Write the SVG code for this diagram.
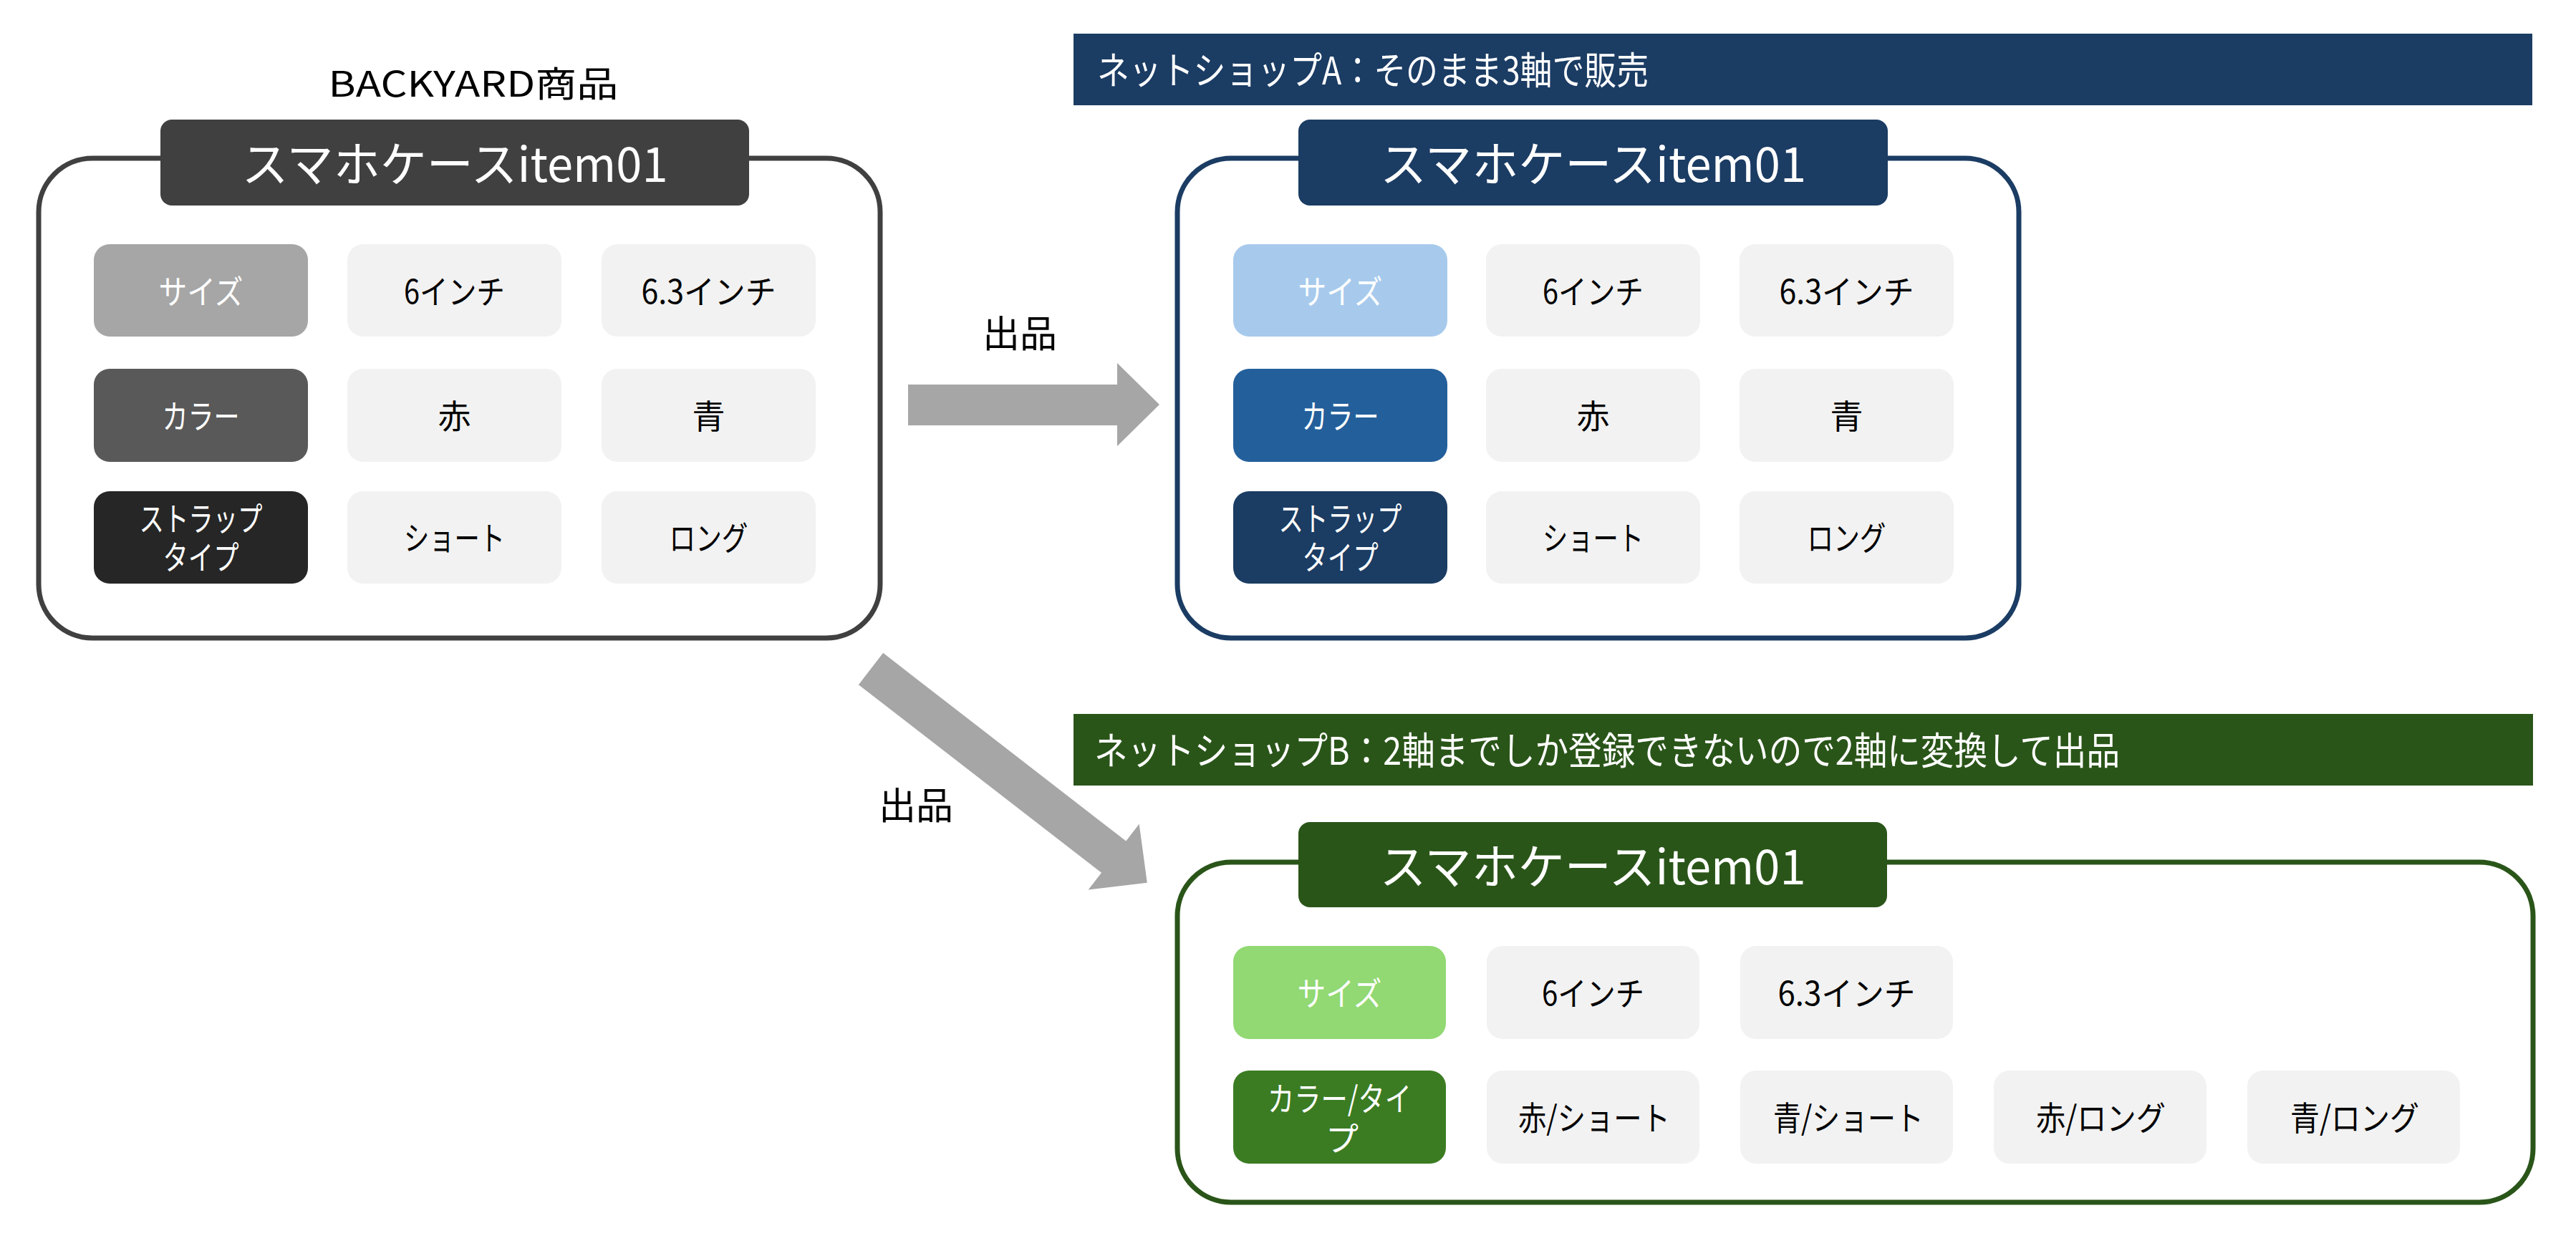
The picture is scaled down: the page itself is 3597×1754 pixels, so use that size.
<svg xmlns="http://www.w3.org/2000/svg" width="3597" height="1754" viewBox="0 0 3597 1754">
<style>
text{font-family:"Noto Sans CJK JP","Noto Sans",sans-serif}
.box{fill:#fff;stroke-width:7}
.cell{fill:#F2F2F2}
.title{font-size:67px;fill:#fff;text-anchor:middle}
.vt{font-size:46px;fill:#000;text-anchor:middle}
.ht{font-size:46px;fill:#fff;text-anchor:middle}
.banner-t{font-size:53px;fill:#fff}
.lbl{font-size:52px;fill:#000;text-anchor:middle}
.arrow{fill:#A6A6A6}
</style>
<rect width="3597" height="1754" fill="#fff"/>

<g id="connectors">
  <path class="arrow" d="M1268,537 H1560 V507 L1619,565 L1560,623 V594 H1268 Z"/>
  <path class="arrow" d="M0,-28 H429 V-58 L488,0 L429,58 V28 H0 Z" transform="translate(1216,934) rotate(37.76)"/>
  <text class="lbl" x="1424" y="485">出品</text>
  <text class="lbl" x="1279" y="1144">出品</text>
</g>

<g id="backyard">
  <text x="661" y="135" font-size="49" text-anchor="middle" textLength="405" lengthAdjust="spacingAndGlyphs" fill="#000">BACKYARD商品</text>
  <rect class="box" x="54" y="221" width="1175" height="670" rx="75" stroke="#404040"/>
  <rect x="224" y="167" width="822" height="120" rx="16" fill="#404040"/>
  <text class="title" x="635" y="254" textLength="595" lengthAdjust="spacingAndGlyphs">スマホケースitem01</text>
  <rect x="131" y="341" width="299" height="129" rx="22" fill="#A6A6A6"/>
  <rect x="131" y="515" width="299" height="130" rx="22" fill="#595959"/>
  <rect x="131" y="686" width="299" height="129" rx="22" fill="#262626"/>
  <rect class="cell" x="485" y="341" width="299" height="129" rx="22"/>
  <rect class="cell" x="840" y="341" width="299" height="129" rx="22"/>
  <rect class="cell" x="485" y="515" width="299" height="130" rx="22"/>
  <rect class="cell" x="840" y="515" width="299" height="130" rx="22"/>
  <rect class="cell" x="485" y="686" width="299" height="129" rx="22"/>
  <rect class="cell" x="840" y="686" width="299" height="129" rx="22"/>
  <text class="ht" x="280.5" y="424" textLength="118" lengthAdjust="spacingAndGlyphs">サイズ</text>
  <text class="ht" x="280.5" y="598" textLength="108" lengthAdjust="spacingAndGlyphs">カラー</text>
  <text class="ht"><tspan x="280.5" y="741" textLength="172" lengthAdjust="spacingAndGlyphs">ストラップ</tspan><tspan x="280.5" y="795" textLength="106" lengthAdjust="spacingAndGlyphs">タイプ</tspan></text>
  <text class="vt" x="634.5" y="424" textLength="141" lengthAdjust="spacingAndGlyphs">6インチ</text>
  <text class="vt" x="989.5" y="424" textLength="188" lengthAdjust="spacingAndGlyphs">6.3インチ</text>
  <text class="vt" x="634.5" y="598">赤</text>
  <text class="vt" x="989.5" y="598">青</text>
  <text class="vt" x="634.5" y="768" textLength="141" lengthAdjust="spacingAndGlyphs">ショート</text>
  <text class="vt" x="989.5" y="768" textLength="110" lengthAdjust="spacingAndGlyphs">ロング</text>
</g>

<g id="shopA">
  <rect x="1499" y="47" width="2037" height="100" fill="#1B3C63"/>
  <text class="banner-t" x="1532" y="118" textLength="770" lengthAdjust="spacingAndGlyphs">ネットショップA：そのまま3軸で販売</text>
  <rect class="box" x="1644" y="221" width="1175" height="670" rx="75" stroke="#1B3C63"/>
  <rect x="1813" y="167" width="823" height="120" rx="16" fill="#1B3C63"/>
  <text class="title" x="2224.5" y="254" textLength="595" lengthAdjust="spacingAndGlyphs">スマホケースitem01</text>
  <rect x="1722" y="341" width="299" height="129" rx="22" fill="#A7CAEC"/>
  <rect x="1722" y="515" width="299" height="130" rx="22" fill="#235F9B"/>
  <rect x="1722" y="686" width="299" height="129" rx="22" fill="#1B3C63"/>
  <rect class="cell" x="2075" y="341" width="299" height="129" rx="22"/>
  <rect class="cell" x="2429" y="341" width="299" height="129" rx="22"/>
  <rect class="cell" x="2075" y="515" width="299" height="130" rx="22"/>
  <rect class="cell" x="2429" y="515" width="299" height="130" rx="22"/>
  <rect class="cell" x="2075" y="686" width="299" height="129" rx="22"/>
  <rect class="cell" x="2429" y="686" width="299" height="129" rx="22"/>
  <text class="ht" x="1871.5" y="424" textLength="118" lengthAdjust="spacingAndGlyphs">サイズ</text>
  <text class="ht" x="1871.5" y="598" textLength="108" lengthAdjust="spacingAndGlyphs">カラー</text>
  <text class="ht"><tspan x="1871.5" y="741" textLength="172" lengthAdjust="spacingAndGlyphs">ストラップ</tspan><tspan x="1871.5" y="795" textLength="106" lengthAdjust="spacingAndGlyphs">タイプ</tspan></text>
  <text class="vt" x="2224.5" y="424" textLength="141" lengthAdjust="spacingAndGlyphs">6インチ</text>
  <text class="vt" x="2578.5" y="424" textLength="188" lengthAdjust="spacingAndGlyphs">6.3インチ</text>
  <text class="vt" x="2224.5" y="598">赤</text>
  <text class="vt" x="2578.5" y="598">青</text>
  <text class="vt" x="2224.5" y="768" textLength="141" lengthAdjust="spacingAndGlyphs">ショート</text>
  <text class="vt" x="2578.5" y="768" textLength="110" lengthAdjust="spacingAndGlyphs">ロング</text>
</g>

<g id="shopB">
  <rect x="1499" y="997" width="2038" height="100" fill="#2A5519"/>
  <text class="banner-t" x="1528" y="1068" textLength="1432" lengthAdjust="spacingAndGlyphs">ネットショップB：2軸までしか登録できないので2軸に変換して出品</text>
  <rect class="box" x="1644" y="1204" width="1893" height="475" rx="75" stroke="#2A5519"/>
  <rect x="1813" y="1148" width="822" height="119" rx="16" fill="#2A5519"/>
  <text class="title" x="2224" y="1235" textLength="595" lengthAdjust="spacingAndGlyphs">スマホケースitem01</text>
  <rect x="1722" y="1321" width="297" height="130" rx="22" fill="#92D873"/>
  <rect x="1722" y="1495" width="297" height="130" rx="22" fill="#3B7C23"/>
  <rect class="cell" x="2076" y="1321" width="297" height="130" rx="22"/>
  <rect class="cell" x="2430" y="1321" width="297" height="130" rx="22"/>
  <rect class="cell" x="2076" y="1495" width="297" height="130" rx="22"/>
  <rect class="cell" x="2430" y="1495" width="297" height="130" rx="22"/>
  <rect class="cell" x="2784" y="1495" width="297" height="130" rx="22"/>
  <rect class="cell" x="3138" y="1495" width="297" height="130" rx="22"/>
  <text class="ht" x="1870.5" y="1404" textLength="118" lengthAdjust="spacingAndGlyphs">サイズ</text>
  <text class="ht"><tspan x="1870.5" y="1551" textLength="201" lengthAdjust="spacingAndGlyphs">カラー/タイ</tspan><tspan x="1874" y="1607">プ</tspan></text>
  <text class="vt" x="2224.5" y="1404" textLength="143" lengthAdjust="spacingAndGlyphs">6インチ</text>
  <text class="vt" x="2578.5" y="1404" textLength="192" lengthAdjust="spacingAndGlyphs">6.3インチ</text>
  <text class="vt" x="2226" y="1578" textLength="212" lengthAdjust="spacingAndGlyphs">赤/ショート</text>
  <text class="vt" x="2581" y="1578" textLength="210" lengthAdjust="spacingAndGlyphs">青/ショート</text>
  <text class="vt" x="2933.5" y="1578" textLength="181" lengthAdjust="spacingAndGlyphs">赤/ロング</text>
  <text class="vt" x="3288" y="1578" textLength="180" lengthAdjust="spacingAndGlyphs">青/ロング</text>
</g>
</svg>
